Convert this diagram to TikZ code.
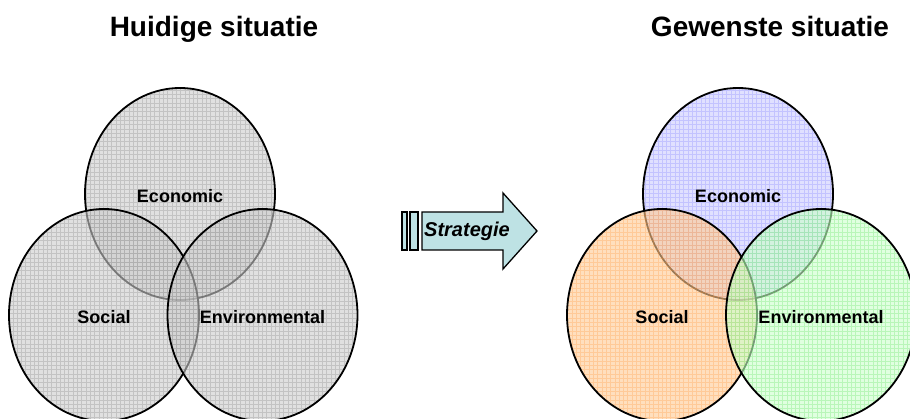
\documentclass[tikz,border=0pt]{standalone}
\usepackage{fontspec}
\setmainfont{Liberation Sans}
\definecolor{greyfill}{RGB}{204,204,204}
\definecolor{greygrid}{RGB}{110,110,110}
\definecolor{bluefill}{RGB}{203,203,255}
\definecolor{bluegrid}{RGB}{110,110,255}
\definecolor{orangefill}{RGB}{255,202,147}
\definecolor{orangegrid}{RGB}{255,140,40}
\definecolor{greenfill}{RGB}{203,255,203}
\definecolor{greengrid}{RGB}{70,220,70}
\definecolor{arrowfill}{RGB}{190,226,228}
% one translucent, grid-hatched set circle: centre x, centre y, fill, grid colour
\newcommand\venncircle[4]{%
  \fill[#3, fill opacity=0.6] (#1,#2) ellipse [x radius=95, y radius=106];
  \begin{scope}
    \clip (#1,#2) ellipse [x radius=95, y radius=106];
    \draw[#4, opacity=0.25, line width=0.8pt, step=4.3pt]
      (#1-100,#2-110) grid (#1+100,#2+110);
  \end{scope}
  \draw[line width=1.8pt] (#1,#2) ellipse [x radius=95, y radius=106];}
\begin{document}
\begin{tikzpicture}[x=1pt,y=-1pt,
  heading/.style={font=\fontsize{28}{32}\selectfont\bfseries, anchor=base},
  setlabel/.style={font=\fontsize{18}{20}\selectfont\bfseries, inner sep=0pt},
  arrowpart/.style={fill=arrowfill, draw=black, line width=1.3pt, line join=miter}]
\useasboundingbox (0,0) rectangle (910,419);

% current situation: grey sets
\venncircle{180}{194}{greyfill}{greygrid}
\venncircle{104}{315}{greyfill}{greygrid}
\venncircle{262.5}{315}{greyfill}{greygrid}

% desired situation: coloured sets
\venncircle{738}{194}{bluefill}{bluegrid}
\venncircle{662}{315}{orangefill}{orangegrid}
\venncircle{821}{315}{greenfill}{greengrid}

% headings
\node[heading] (titleL) at (214,37) {Huidige situatie};
\node[heading] (titleR) at (770,37) {Gewenste situatie};

% set labels
\node[setlabel] (econL) at (180,196) {Economic};
\node[setlabel] (socL)  at (104,317) {Social};
\node[setlabel] (envL)  at (262.5,317) {Environmental};
\node[setlabel] (econR) at (738,196) {Economic};
\node[setlabel] (socR)  at (662,317) {Social};
\node[setlabel] (envR)  at (821,317) {Environmental};

% strategy arrow with its two tail bars
\draw[arrowpart] (402,212) rectangle (407,250);
\draw[arrowpart] (410,212) rectangle (418,250);
\draw[arrowpart] (422,212) -- (503,212) -- (503,193) -- (537,231)
  -- (503,269) -- (503,250) -- (422,250) -- cycle;
\node[font=\fontsize{20}{22}\selectfont\bfseries\itshape, inner sep=0pt]
  (strat) at (467,231) {Strategie};
\end{tikzpicture}
\end{document}
